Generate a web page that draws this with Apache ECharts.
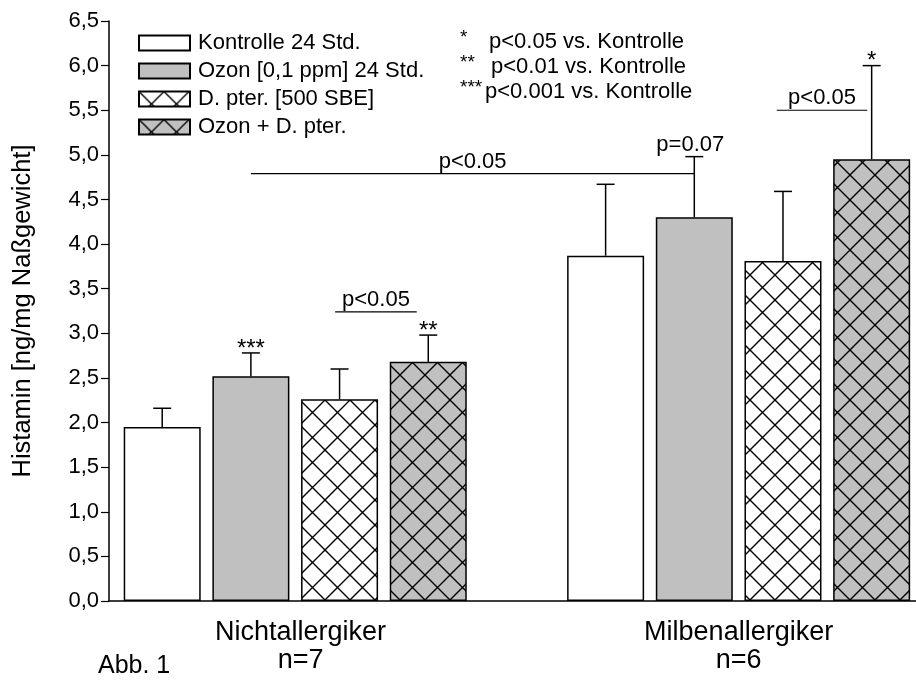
<!DOCTYPE html>
<html>
<head>
<meta charset="utf-8">
<script src="https://cdn.jsdelivr.net/npm/echarts@6/dist/echarts.min.js"></script>
<style>
html,body{margin:0;padding:0;background:#fff;}
#chart{width:916px;height:686px;}
</style>
</head>
<body>
<div id="chart"></div>
<script>
// ---- data ----
const groups = ['Nichtallergiker\nn=7', 'Milbenallergiker\nn=6'];
const seriesNames = ['Kontrolle 24 Std.', 'Ozon [0,1 ppm] 24 Std.', 'D. pter. [500 SBE]', 'Ozon + D. pter.'];
const kontrolle   = [1.95, 3.87];
const ozon        = [2.52, 4.30];
const dpter       = [2.26, 3.81];
const ozonDpter   = [2.68, 4.95];
const kontrolleErr = [0.21, 0.80];
const ozonErr      = [0.26, 0.68];
const dpterErr     = [0.34, 0.78];
const ozonDpterErr = [0.30, 1.05];
const starsNicht = ['', '***', '', '**'];
const starsMilben = ['', '', '', '*'];
const yTicks = [0, 0.5, 1, 1.5, 2, 2.5, 3, 3.5, 4, 4.5, 5, 5.5, 6, 6.5];
// significance brackets: from slot, to slot, y level
const bracketFrom = [1.95, 1.0, 6.93];
const bracketTo   = [2.87, 6.0, 7.95];
const bracketY    = [3.24, 4.79, 5.50];
const bracketText = ['p<0.05', 'p<0.05', 'p<0.05'];
const noteX = [6.0];
const noteY = [4.98];
const noteText = ['p=0.07'];
const sigStars = ['*', '**', '***'];
const sigText = ['p<0.05 vs. Kontrolle', 'p<0.01 vs. Kontrolle', 'p<0.001 vs. Kontrolle'];

const values = [kontrolle, ozon, dpter, ozonDpter];
const errors = [kontrolleErr, ozonErr, dpterErr, ozonDpterErr];
const stars = [starsNicht, starsMilben];
const SLOTS_PER_GROUP = 5;

function makePattern(bg) {
  const s = 25;
  const c = document.createElement('canvas');
  c.width = s; c.height = s;
  const g = c.getContext('2d');
  g.fillStyle = bg; g.fillRect(0, 0, s, s);
  g.strokeStyle = '#000'; g.lineWidth = 1.4;
  g.beginPath();
  g.moveTo(-2, -2); g.lineTo(s + 2, s + 2);
  g.moveTo(s + 2, -2); g.lineTo(-2, s + 2);
  g.stroke();
  return { image: c, repeat: 'repeat' };
}
const fills = ['#ffffff', '#c0c0c0', makePattern('#ffffff'), makePattern('#c0c0c0')];
const FONT = '"Liberation Sans", Arial, sans-serif';

const chart = echarts.init(document.getElementById('chart'), null, { renderer: 'canvas' });

const barSeries = values.map((vals, s) => ({
  name: seriesNames[s],
  type: 'bar',
  barWidth: 77,
  barGap: '-100%',
  itemStyle: { color: fills[s], borderColor: '#000', borderWidth: 1.5 },
  emphasis: { disabled: true },
  data: vals.map((v, g) => [g * SLOTS_PER_GROUP + s, v]),
  z: 2
}));

const errData = [];
const errStars = [];
values.forEach((vals, s) => vals.forEach((v, g) => {
  errData.push([g * SLOTS_PER_GROUP + s, v, v + errors[s][g]]);
  errStars.push(stars[g][s]);
}));

const errSeries = {
  type: 'custom',
  silent: true,
  z: 3,
  encode: { x: 0, y: [1, 2] },
  data: errData,
  renderItem: function (params, api) {
    const x = api.value(0);
    const p0 = api.coord([x, api.value(1)]);
    const p1 = api.coord([x, api.value(2)]);
    const half = 9;
    const ls = { stroke: '#000', lineWidth: 1.5 };
    const children = [
      { type: 'line', shape: { x1: p0[0], y1: p0[1], x2: p1[0], y2: p1[1] }, style: ls },
      { type: 'line', shape: { x1: p1[0] - half, y1: p1[1], x2: p1[0] + half, y2: p1[1] }, style: ls }
    ];
    const st = errStars[params.dataIndex];
    if (st) {
      children.push({ type: 'text', style: { text: st, x: p1[0], y: p1[1] + 8, align: 'center', verticalAlign: 'bottom', font: '24px ' + FONT, fill: '#000' } });
    }
    return { type: 'group', children: children };
  }
};

const brData = bracketFrom.map((f, i) => [f, bracketTo[i], bracketY[i]]);
const brSeries = {
  type: 'custom',
  silent: true,
  z: 4,
  encode: { x: [0, 1], y: 2 },
  data: brData,
  renderItem: function (params, api) {
    const a = api.coord([api.value(0), api.value(2)]);
    const b = api.coord([api.value(1), api.value(2)]);
    const txt = bracketText[params.dataIndex];
    return {
      type: 'group', children: [
        { type: 'line', shape: { x1: a[0], y1: a[1], x2: b[0], y2: b[1] }, style: { stroke: '#000', lineWidth: 1.2 } },
        { type: 'text', style: { text: txt, x: (a[0] + b[0]) / 2, y: a[1] - 1, align: 'center', verticalAlign: 'bottom', font: '22px ' + FONT, fill: '#000' } }
      ]
    };
  }
};

const noteSeries = {
  type: 'custom',
  silent: true,
  z: 4,
  encode: { x: 0, y: 1 },
  data: noteX.map((x, i) => [x, noteY[i]]),
  renderItem: function (params, api) {
    const a = api.coord([api.value(0), api.value(1)]);
    return { type: 'text', style: { text: noteText[params.dataIndex], x: a[0] - 4, y: a[1] - 1, align: 'center', verticalAlign: 'bottom', font: '22px ' + FONT, fill: '#000' } };
  }
};

const graphics = [
  { type: 'text', left: 98, top: 654, style: { text: 'Abb. 1', font: '25px ' + FONT, fill: '#000' } }
];
sigStars.forEach((st, i) => {
  const y = 42 + i * 25;
  graphics.push({ type: 'text', x: 460, y: y - 4, style: { text: st, font: '19px ' + FONT, fill: '#000', verticalAlign: 'middle' } });
  graphics.push({ type: 'text', x: [489, 491, 485][i], y: y, style: { text: sigText[i], font: '22px ' + FONT, fill: '#000', verticalAlign: 'middle' } });
});

chart.setOption({
  animation: false,
  backgroundColor: '#fff',
  textStyle: { fontFamily: FONT },
  grid: { left: 109, right: 0, top: 21, bottom: 85, containLabel: false },
  legend: {
    orient: 'vertical',
    left: 133,
    top: 27,
    itemWidth: 51,
    itemHeight: 15,
    itemGap: 6,
    selectedMode: false,
    icon: 'rect',
    data: seriesNames,
    textStyle: { fontSize: 22, color: '#000', fontFamily: FONT, padding: [0, 0, 0, 3] }
  },
  xAxis: {
    type: 'value',
    min: -0.6,
    max: 8.5,
    splitLine: { show: false },
    axisTick: { show: false },
    axisLine: { show: true, onZero: false, lineStyle: { color: '#000', width: 1.5 } },
    axisLabel: {
      customValues: [1.56, 6.5],
      formatter: function (v) { return groups[Math.round((v - 1.5) / SLOTS_PER_GROUP)]; },
      fontSize: 27, color: '#000', margin: 18, lineHeight: 28, fontFamily: FONT
    }
  },
  yAxis: {
    type: 'value',
    min: 0, max: 6.5, interval: 0.5,
    name: 'Histamin [ng/mg Naßgewicht]',
    nameLocation: 'middle',
    nameGap: 73,
    nameTextStyle: { fontSize: 25.5, color: '#000', fontFamily: FONT },
    splitLine: { show: false },
    axisLine: { show: true, onZero: false, lineStyle: { color: '#000', width: 1.5 } },
    axisTick: { show: true, length: 8, lineStyle: { color: '#000', width: 1.2 } },
    axisLabel: {
      fontSize: 22, color: '#000', margin: 10, fontFamily: FONT,
      formatter: function (v) { return v.toFixed(1).replace('.', ','); }
    }
  },
  series: barSeries.concat([errSeries, brSeries, noteSeries]),
  graphic: graphics
});
</script>
</body>
</html>
